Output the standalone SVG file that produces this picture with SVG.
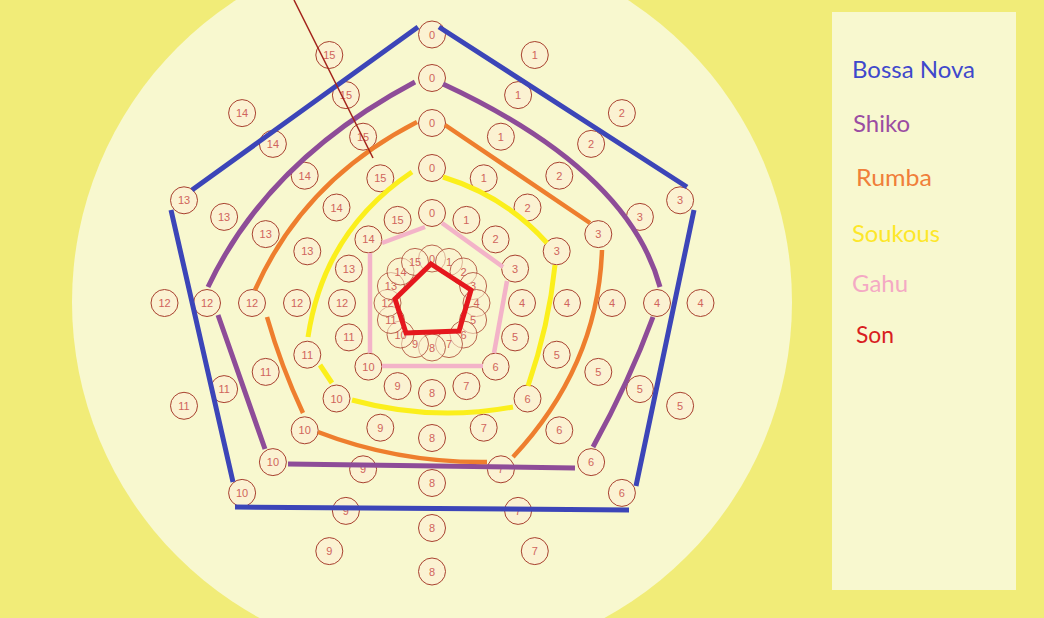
<svg xmlns="http://www.w3.org/2000/svg" width="1044" height="618" viewBox="0 0 1044 618">
<style>
.n circle{fill:#fbf2d2;stroke:#a8412f;stroke-width:1}
.in circle{fill:#fbf2d2;fill-opacity:.55;stroke:#a8412f;stroke-width:.8}
.n text,.in text{font-family:"Liberation Sans",Arial,sans-serif;font-size:11px;fill:#d0645c;text-anchor:middle}
.c path,.c polygon{fill:none;stroke-linecap:butt}
.b{stroke:#3c45b8;stroke-width:5}
.p{stroke:#8e4c98;stroke-width:5}
.o{stroke:#ee7e2e;stroke-width:4.5}
.y{stroke:#fbef1c;stroke-width:5}
.k{stroke:#f3b3c8;stroke-width:4.5}
.r{stroke:#e5171d;stroke-width:5}
.leg text{font-family:"Lato","Liberation Sans",sans-serif;font-size:23px}
</style>
<rect width="1044" height="618" fill="#f1ec78"/>
<circle cx="432" cy="302" r="360" fill="#f8f8cf"/>
<g id="legend" class="leg">
<rect x="832" y="12" width="184" height="578" fill="#f8f8cf"/>
<text x="852" y="78" fill="#3f48cc" textLength="123" lengthAdjust="spacingAndGlyphs">Bossa Nova</text>
<text x="853" y="131.5" fill="#9b4da2" textLength="57" lengthAdjust="spacingAndGlyphs">Shiko</text>
<text x="856" y="185.5" fill="#f07f3a" textLength="76" lengthAdjust="spacingAndGlyphs">Rumba</text>
<text x="852" y="241.5" fill="#fde72a" textLength="88" lengthAdjust="spacingAndGlyphs">Soukous</text>
<text x="852" y="292" fill="#f4a9c4" textLength="56" lengthAdjust="spacingAndGlyphs">Gahu</text>
<text x="856" y="343" fill="#d8201f" textLength="38" lengthAdjust="spacingAndGlyphs">Son</text>
</g>
<g id="ring1">
<g id="r1n0" class="n"><circle cx="432" cy="34.5" r="13.5"/><text x="432" y="38.5">0</text></g>
<g id="r1n1" class="n"><circle cx="534.8" cy="55" r="13.5"/><text x="534.8" y="59">1</text></g>
<g id="r1n2" class="n"><circle cx="621.9" cy="113.1" r="13.5"/><text x="621.9" y="117.1">2</text></g>
<g id="r1n3" class="n"><circle cx="680.1" cy="200.3" r="13.5"/><text x="680.1" y="204.3">3</text></g>
<g id="r1n4" class="n"><circle cx="700.5" cy="303" r="13.5"/><text x="700.5" y="307">4</text></g>
<g id="r1n5" class="n"><circle cx="680.1" cy="405.8" r="13.5"/><text x="680.1" y="409.8">5</text></g>
<g id="r1n6" class="n"><circle cx="621.9" cy="492.9" r="13.5"/><text x="621.9" y="496.9">6</text></g>
<g id="r1n7" class="n"><circle cx="534.8" cy="551.1" r="13.5"/><text x="534.8" y="555.1">7</text></g>
<g id="r1n8" class="n"><circle cx="432" cy="571.5" r="13.5"/><text x="432" y="575.5">8</text></g>
<g id="r1n9" class="n"><circle cx="329.3" cy="551.1" r="13.5"/><text x="329.3" y="555.1">9</text></g>
<g id="r1n10" class="n"><circle cx="242.1" cy="492.9" r="13.5"/><text x="242.1" y="496.9">10</text></g>
<g id="r1n11" class="n"><circle cx="184" cy="405.8" r="13.5"/><text x="184" y="409.8">11</text></g>
<g id="r1n12" class="n"><circle cx="164.5" cy="303" r="13.5"/><text x="164.5" y="307">12</text></g>
<g id="r1n13" class="n"><circle cx="184" cy="200.3" r="13.5"/><text x="184" y="204.3">13</text></g>
<g id="r1n14" class="n"><circle cx="242.1" cy="113.1" r="13.5"/><text x="242.1" y="117.1">14</text></g>
<g id="r1n15" class="n"><circle cx="329.3" cy="55" r="13.5"/><text x="329.3" y="59">15</text></g>
</g>
<g id="ring2">
<g id="r2n0" class="n"><circle cx="432" cy="78" r="13.5"/><text x="432" y="82">0</text></g>
<g id="r2n1" class="n"><circle cx="518.1" cy="95.1" r="13.5"/><text x="518.1" y="99.1">1</text></g>
<g id="r2n2" class="n"><circle cx="591.1" cy="143.9" r="13.5"/><text x="591.1" y="147.9">2</text></g>
<g id="r2n3" class="n"><circle cx="639.9" cy="216.9" r="13.5"/><text x="639.9" y="220.9">3</text></g>
<g id="r2n4" class="n"><circle cx="657" cy="303" r="13.5"/><text x="657" y="307">4</text></g>
<g id="r2n5" class="n"><circle cx="639.9" cy="389.1" r="13.5"/><text x="639.9" y="393.1">5</text></g>
<g id="r2n6" class="n"><circle cx="591.1" cy="462.1" r="13.5"/><text x="591.1" y="466.1">6</text></g>
<g id="r2n7" class="n"><circle cx="518.1" cy="510.9" r="13.5"/><text x="518.1" y="514.9">7</text></g>
<g id="r2n8" class="n"><circle cx="432" cy="528" r="13.5"/><text x="432" y="532">8</text></g>
<g id="r2n9" class="n"><circle cx="345.9" cy="510.9" r="13.5"/><text x="345.9" y="514.9">9</text></g>
<g id="r2n10" class="n"><circle cx="272.9" cy="462.1" r="13.5"/><text x="272.9" y="466.1">10</text></g>
<g id="r2n11" class="n"><circle cx="224.1" cy="389.1" r="13.5"/><text x="224.1" y="393.1">11</text></g>
<g id="r2n12" class="n"><circle cx="207" cy="303" r="13.5"/><text x="207" y="307">12</text></g>
<g id="r2n13" class="n"><circle cx="224.1" cy="216.9" r="13.5"/><text x="224.1" y="220.9">13</text></g>
<g id="r2n14" class="n"><circle cx="272.9" cy="143.9" r="13.5"/><text x="272.9" y="147.9">14</text></g>
<g id="r2n15" class="n"><circle cx="345.9" cy="95.1" r="13.5"/><text x="345.9" y="99.1">15</text></g>
</g>
<g id="ring3">
<g id="r3n0" class="n"><circle cx="432" cy="123" r="13.5"/><text x="432" y="127">0</text></g>
<g id="r3n1" class="n"><circle cx="500.9" cy="136.7" r="13.5"/><text x="500.9" y="140.7">1</text></g>
<g id="r3n2" class="n"><circle cx="559.3" cy="175.7" r="13.5"/><text x="559.3" y="179.7">2</text></g>
<g id="r3n3" class="n"><circle cx="598.3" cy="234.1" r="13.5"/><text x="598.3" y="238.1">3</text></g>
<g id="r3n4" class="n"><circle cx="612" cy="303" r="13.5"/><text x="612" y="307">4</text></g>
<g id="r3n5" class="n"><circle cx="598.3" cy="371.9" r="13.5"/><text x="598.3" y="375.9">5</text></g>
<g id="r3n6" class="n"><circle cx="559.3" cy="430.3" r="13.5"/><text x="559.3" y="434.3">6</text></g>
<g id="r3n7" class="n"><circle cx="500.9" cy="469.3" r="13.5"/><text x="500.9" y="473.3">7</text></g>
<g id="r3n8" class="n"><circle cx="432" cy="483" r="13.5"/><text x="432" y="487">8</text></g>
<g id="r3n9" class="n"><circle cx="363.1" cy="469.3" r="13.5"/><text x="363.1" y="473.3">9</text></g>
<g id="r3n10" class="n"><circle cx="304.7" cy="430.3" r="13.5"/><text x="304.7" y="434.3">10</text></g>
<g id="r3n11" class="n"><circle cx="265.7" cy="371.9" r="13.5"/><text x="265.7" y="375.9">11</text></g>
<g id="r3n12" class="n"><circle cx="252" cy="303" r="13.5"/><text x="252" y="307">12</text></g>
<g id="r3n13" class="n"><circle cx="265.7" cy="234.1" r="13.5"/><text x="265.7" y="238.1">13</text></g>
<g id="r3n14" class="n"><circle cx="304.7" cy="175.7" r="13.5"/><text x="304.7" y="179.7">14</text></g>
<g id="r3n15" class="n"><circle cx="363.1" cy="136.7" r="13.5"/><text x="363.1" y="140.7">15</text></g>
</g>
<g id="ring4">
<g id="r4n0" class="n"><circle cx="432" cy="168" r="13.5"/><text x="432" y="172">0</text></g>
<g id="r4n1" class="n"><circle cx="483.7" cy="178.3" r="13.5"/><text x="483.7" y="182.3">1</text></g>
<g id="r4n2" class="n"><circle cx="527.5" cy="207.5" r="13.5"/><text x="527.5" y="211.5">2</text></g>
<g id="r4n3" class="n"><circle cx="556.7" cy="251.3" r="13.5"/><text x="556.7" y="255.3">3</text></g>
<g id="r4n4" class="n"><circle cx="567" cy="303" r="13.5"/><text x="567" y="307">4</text></g>
<g id="r4n5" class="n"><circle cx="556.7" cy="354.7" r="13.5"/><text x="556.7" y="358.7">5</text></g>
<g id="r4n6" class="n"><circle cx="527.5" cy="398.5" r="13.5"/><text x="527.5" y="402.5">6</text></g>
<g id="r4n7" class="n"><circle cx="483.7" cy="427.7" r="13.5"/><text x="483.7" y="431.7">7</text></g>
<g id="r4n8" class="n"><circle cx="432" cy="438" r="13.5"/><text x="432" y="442">8</text></g>
<g id="r4n9" class="n"><circle cx="380.3" cy="427.7" r="13.5"/><text x="380.3" y="431.7">9</text></g>
<g id="r4n10" class="n"><circle cx="336.5" cy="398.5" r="13.5"/><text x="336.5" y="402.5">10</text></g>
<g id="r4n11" class="n"><circle cx="307.3" cy="354.7" r="13.5"/><text x="307.3" y="358.7">11</text></g>
<g id="r4n12" class="n"><circle cx="297" cy="303" r="13.5"/><text x="297" y="307">12</text></g>
<g id="r4n13" class="n"><circle cx="307.3" cy="251.3" r="13.5"/><text x="307.3" y="255.3">13</text></g>
<g id="r4n14" class="n"><circle cx="336.5" cy="207.5" r="13.5"/><text x="336.5" y="211.5">14</text></g>
<g id="r4n15" class="n"><circle cx="380.3" cy="178.3" r="13.5"/><text x="380.3" y="182.3">15</text></g>
</g>
<g id="ring5">
<g id="r5n0" class="n"><circle cx="432" cy="213" r="13.5"/><text x="432" y="217">0</text></g>
<g id="r5n1" class="n"><circle cx="466.4" cy="219.9" r="13.5"/><text x="466.4" y="223.9">1</text></g>
<g id="r5n2" class="n"><circle cx="495.6" cy="239.4" r="13.5"/><text x="495.6" y="243.4">2</text></g>
<g id="r5n3" class="n"><circle cx="515.1" cy="268.6" r="13.5"/><text x="515.1" y="272.6">3</text></g>
<g id="r5n4" class="n"><circle cx="522" cy="303" r="13.5"/><text x="522" y="307">4</text></g>
<g id="r5n5" class="n"><circle cx="515.1" cy="337.4" r="13.5"/><text x="515.1" y="341.4">5</text></g>
<g id="r5n6" class="n"><circle cx="495.6" cy="366.6" r="13.5"/><text x="495.6" y="370.6">6</text></g>
<g id="r5n7" class="n"><circle cx="466.4" cy="386.1" r="13.5"/><text x="466.4" y="390.1">7</text></g>
<g id="r5n8" class="n"><circle cx="432" cy="393" r="13.5"/><text x="432" y="397">8</text></g>
<g id="r5n9" class="n"><circle cx="397.6" cy="386.1" r="13.5"/><text x="397.6" y="390.1">9</text></g>
<g id="r5n10" class="n"><circle cx="368.4" cy="366.6" r="13.5"/><text x="368.4" y="370.6">10</text></g>
<g id="r5n11" class="n"><circle cx="348.9" cy="337.4" r="13.5"/><text x="348.9" y="341.4">11</text></g>
<g id="r5n12" class="n"><circle cx="342" cy="303" r="13.5"/><text x="342" y="307">12</text></g>
<g id="r5n13" class="n"><circle cx="348.9" cy="268.6" r="13.5"/><text x="348.9" y="272.6">13</text></g>
<g id="r5n14" class="n"><circle cx="368.4" cy="239.4" r="13.5"/><text x="368.4" y="243.4">14</text></g>
<g id="r5n15" class="n"><circle cx="397.6" cy="219.9" r="13.5"/><text x="397.6" y="223.9">15</text></g>
</g>
<g id="ring6">
<g id="r6n0" class="in"><circle cx="432" cy="258.5" r="13.5"/><text x="432" y="262.5">0</text></g>
<g id="r6n1" class="in"><circle cx="449" cy="261.9" r="13.5"/><text x="449" y="265.9">1</text></g>
<g id="r6n2" class="in"><circle cx="463.5" cy="271.5" r="13.5"/><text x="463.5" y="275.5">2</text></g>
<g id="r6n3" class="in"><circle cx="473.1" cy="286" r="13.5"/><text x="473.1" y="290">3</text></g>
<g id="r6n4" class="in"><circle cx="476.5" cy="303" r="13.5"/><text x="476.5" y="307">4</text></g>
<g id="r6n5" class="in"><circle cx="473.1" cy="320" r="13.5"/><text x="473.1" y="324">5</text></g>
<g id="r6n6" class="in"><circle cx="463.5" cy="334.5" r="13.5"/><text x="463.5" y="338.5">6</text></g>
<g id="r6n7" class="in"><circle cx="449" cy="344.1" r="13.5"/><text x="449" y="348.1">7</text></g>
<g id="r6n8" class="in"><circle cx="432" cy="347.5" r="13.5"/><text x="432" y="351.5">8</text></g>
<g id="r6n9" class="in"><circle cx="415" cy="344.1" r="13.5"/><text x="415" y="348.1">9</text></g>
<g id="r6n10" class="in"><circle cx="400.5" cy="334.5" r="13.5"/><text x="400.5" y="338.5">10</text></g>
<g id="r6n11" class="in"><circle cx="390.9" cy="320" r="13.5"/><text x="390.9" y="324">11</text></g>
<g id="r6n12" class="in"><circle cx="387.5" cy="303" r="13.5"/><text x="387.5" y="307">12</text></g>
<g id="r6n13" class="in"><circle cx="390.9" cy="286" r="13.5"/><text x="390.9" y="290">13</text></g>
<g id="r6n14" class="in"><circle cx="400.5" cy="271.5" r="13.5"/><text x="400.5" y="275.5">14</text></g>
<g id="r6n15" class="in"><circle cx="415" cy="261.9" r="13.5"/><text x="415" y="265.9">15</text></g>
</g>
<g id="connectors" class="c">
<path class="b" d="M439,27 L687,187 M694,210 L636,486 M629,510 L235,507 M233,482 L171,210 M192,190 L418,27"/>
<path class="p" d="M443,84 Q628,170 660,287 M653,317 Q629,382 593,447 M575,468 L288,464 M265,449 L218,315 M208,287 Q268,160 415,82"/>
<path class="o" d="M445,125 L590,223 M602,250 Q598,366 513,457 M487,462 Q398,463 318,432 M303,413 Q281,366 267,317 M255,290 Q304,180 417,122"/>
<path class="y" d="M443,177 Q505,196 547,243 M555,265 Q549,325 528,386 M513,407 Q432,422 352,400 M332,383 L320,365 M308,337 Q324,231 412,172"/>
<path class="k" d="M442,223 L503,267 M507,281 L494,353 M483,366 L382,366 M370,353 L370,253 M382,243 L425,227"/>
<polygon class="r" points="431,264 471,290 459,331 406,333 395,299"/>
<path d="M294,0 L373,158" stroke="#a3241c" stroke-width="1.5" fill="none"/>
</g>
</svg>
